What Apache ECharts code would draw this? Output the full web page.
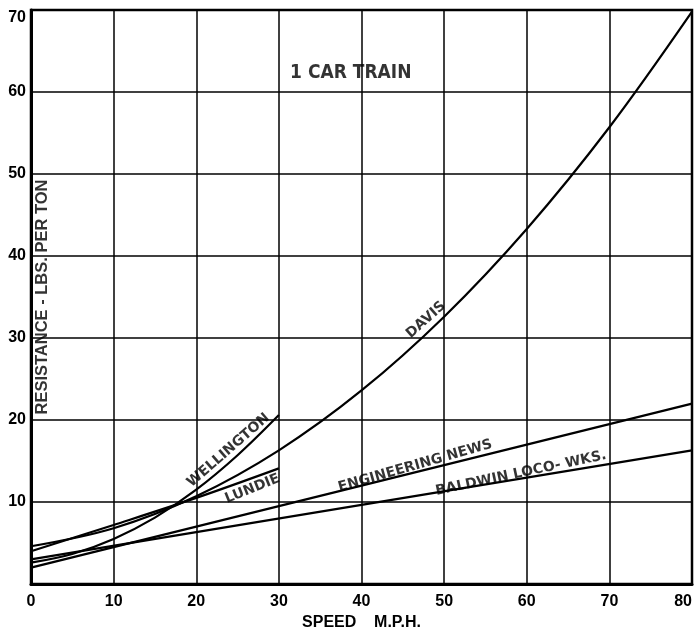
<!DOCTYPE html>
<html>
<head>
<meta charset="utf-8">
<script src="https://cdn.jsdelivr.net/npm/echarts@6/dist/echarts.min.js"></script>
<style>
html,body{margin:0;padding:0;background:#fff;}
#chart{width:696px;height:627px;}
</style>
</head>
<body>
<div id="chart"></div>
<script>
// Speed (M.P.H.) and resistance (lbs. per ton)
const davisSpeed = [0, 10, 20, 30, 40, 50, 60, 70, 80];
const davisRes   = [4.6, 6.8, 10.7, 16.3, 23.6, 32.6, 43.3, 55.7, 69.8];

const wellingtonSpeed = [0, 5, 10, 15, 20, 25, 30];
const wellingtonRes   = [2.6, 3.66, 5.5, 8.1, 11.5, 15.7, 20.6];

const lundieSpeed = [0, 10, 20, 30];
const lundieRes   = [4.0, 7.2, 10.5, 14.1];

const engNewsSpeed = [0, 80];
const engNewsRes   = [2.0, 22.0];

const baldwinSpeed = [0, 80];
const baldwinRes   = [3.0, 16.3];

const xTicks = [0, 10, 20, 30, 40, 50, 60, 70, 80];
const yTicks = [0, 10, 20, 30, 40, 50, 60, 70];

// Text annotations placed in data units: [text, speed, resistance, angle]
const annotations = [
  ['WELLINGTON', 23.9, 16.3, 41],
  ['LUNDIE', 26.8, 11.6, 22],
  ['DAVIS', 47.8, 32.2, 42],
  ['ENGINEERING NEWS', 46.5, 14.4, 16],
  ['BALDWIN LOCO- WKS.', 59.3, 13.5, 12],
  ['1 CAR TRAIN', 38.7, 62.3, 0],
  ['RESISTANCE - LBS. PER TON', 1.4, 35.0, 90]
];

const zip = (a, b) => a.map((v, i) => [v, b[i]]);

const lineSeries = (name, xs, ys) => ({
  name: name,
  type: 'line',
  data: zip(xs, ys),
  smooth: 0.35,
  showSymbol: false,
  symbol: 'none',
  silent: true,
  lineStyle: { color: '#000', width: 2.2 },
  z: 5
});

const chart = echarts.init(document.getElementById('chart'), null, { renderer: 'canvas' });

const annotSeries = annotations.map(a => {
  const isTitle = a[0] === '1 CAR TRAIN';
  const isAxis = a[3] === 90;
  return {
    type: 'scatter',
    symbolSize: 0,
    silent: true,
    data: [[a[1], a[2]]],
    label: {
      show: true,
      position: 'inside',
      formatter: a[0],
      rotate: a[3],
      color: '#000',
      fontFamily: isAxis ? 'Liberation Sans' : (isTitle ? 'DejaVu Sans Condensed' : 'DejaVu Sans'),
      fontWeight: 'bold',
      fontSize: isTitle ? 19 : (isAxis ? 16.5 : 14)
    },
    z: 10
  };
});

const yMax = yTicks[yTicks.length - 1];

chart.setOption({
  backgroundColor: '#fff',
  animation: false,
  grid: {
    left: 31, right: 4, top: 10, bottom: 43,
    outerBoundsMode: 'none',
    containLabel: false,
    show: true, borderColor: '#000', borderWidth: 2.5
  },
  xAxis: {
    type: 'value',
    min: xTicks[0], max: xTicks[xTicks.length - 1], interval: 10,
    name: 'SPEED    M.P.H.',
    nameLocation: 'middle',
    nameGap: 30,
    nameTextStyle: { color: '#000', fontFamily: 'Liberation Sans', fontWeight: 'bold', fontSize: 16 },
    axisLine: { show: true, lineStyle: { color: '#000', width: 3 } },
    axisTick: { show: false },
    axisLabel: {
      color: '#000', fontFamily: 'Liberation Sans', fontWeight: 'bold', fontSize: 16,
      margin: 10, alignMaxLabel: 'right'
    },
    splitLine: { show: true, lineStyle: { color: '#000', width: 1.5 } }
  },
  yAxis: {
    type: 'value',
    min: yTicks[0], max: yMax, interval: 10,
    axisLine: { show: true, lineStyle: { color: '#000', width: 3 } },
    axisTick: { show: false },
    axisLabel: {
      color: '#000', fontFamily: 'Liberation Sans', fontWeight: 'bold', fontSize: 16,
      margin: 5, showMinLabel: false,
      formatter: v => (v === yMax ? '{top|' + v + '}' : String(v)),
      rich: {
        top: { fontFamily: 'Liberation Sans', fontWeight: 'bold', fontSize: 16, color: '#000', padding: [16, 0, 0, 0] }
      }
    },
    splitLine: { show: true, lineStyle: { color: '#000', width: 1.5 } }
  },
  series: [
    lineSeries('Davis', davisSpeed, davisRes),
    lineSeries('Wellington', wellingtonSpeed, wellingtonRes),
    lineSeries('Lundie', lundieSpeed, lundieRes),
    lineSeries('Engineering News', engNewsSpeed, engNewsRes),
    lineSeries('Baldwin Loco. Wks.', baldwinSpeed, baldwinRes)
  ].concat(annotSeries)
});
</script>
</body>
</html>
